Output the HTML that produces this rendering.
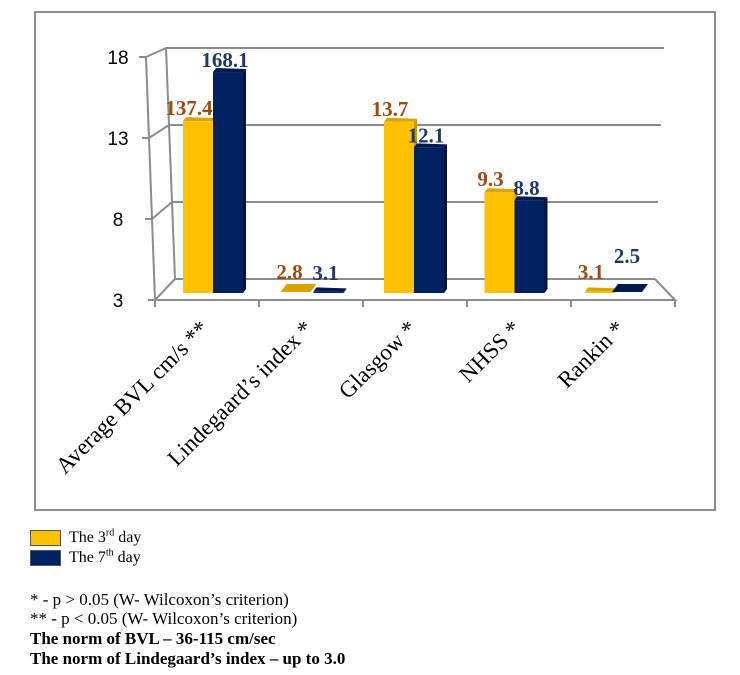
<!DOCTYPE html>
<html><head><meta charset="utf-8"><style>
body{margin:0;background:#fff;width:740px;height:675px;overflow:hidden;position:relative;font-family:"Liberation Serif",serif}
.note{position:absolute;left:30px;font-size:17px;color:#000;white-space:nowrap;line-height:18px}
.leg{position:absolute;left:30px;width:29px;height:14px;border:1px solid #555}
</style></head><body>
<div style="position:absolute;left:34px;top:11px;width:682px;height:500px;border:2px solid #8c8c8c;box-sizing:border-box"></div>
<svg id="chart" width="740" height="520" style="position:absolute;left:0;top:0" font-family="Liberation Serif, serif"></svg>
<div class="leg" style="top:530px;background:#FFC000"></div>
<div class="note" style="left:69px;top:529px;font-size:16px">The 3<sup style="font-size:10px;line-height:0">rd</sup> day</div>
<div class="leg" style="top:550px;background:#002060"></div>
<div class="note" style="left:69px;top:549px;font-size:16px">The 7<sup style="font-size:10px;line-height:0">th</sup> day</div>
<div class="note" style="top:591px">* - p &gt; 0.05 (W- Wilcoxon’s criterion)</div>
<div class="note" style="top:610px">** - p &lt; 0.05 (W- Wilcoxon’s criterion)</div>
<div class="note" style="top:630px;font-weight:bold">The norm of BVL – 36-115 cm/sec</div>
<div class="note" style="top:650px;font-weight:bold">The norm of Lindegaard’s index – up to 3.0</div>
<script>
const categories=["Average BVL cm/s **","Lindegaard’s index *","Glasgow *","NHSS *","Rankin *"];
const day3=[13.74,2.8,13.7,9.3,3.1];
const day7=[16.81,3.1,12.1,8.8,2.5];
const day3Labels=["137.4","2.8","13.7","9.3","3.1"];
const day7Labels=["168.1","3.1","12.1","8.8","2.5"];
const ticks=[3,8,13,18];

const svg=document.getElementById('chart');
const NS='http://www.w3.org/2000/svg';
function mk(t,a,p){const e=document.createElementNS(NS,t);for(const k in a)e.setAttribute(k,a[k]);(p||svg).appendChild(e);return e;}
const yFront=v=>300-(v-3)*16.2;
const yBack=v=>279-(v-3)*15.4;
const xFront=v=>155-(v-3)*0.6;
const xBack=v=>175-(v-3)*0.6;
const xBackR=v=>655+(v-3)*0.6;
const yBar=v=>293-Math.max(0,v-3)*16;
const catC=i=>156+104*(i+0.5);
const barL=i=>183+100.5*i;
const g='#8c8c8c';
ticks.forEach(v=>{
  const l=mk('line',{x1:xBack(v),y1:yBack(v),x2:xBackR(v),y2:yBack(v),stroke:g,'stroke-width':2});
  
  const d=mk('line',{x1:xFront(v),y1:yFront(v),x2:xBack(v),y2:yBack(v),stroke:g,'stroke-width':2});
  
  const tk=mk('line',{x1:xFront(v)-7,y1:yFront(v),x2:xFront(v),y2:yFront(v),stroke:g,'stroke-width':2});
  
  const t=mk('text',{x:118,y:yFront(v)+7,'text-anchor':'middle','font-size':19,'font-family':'Liberation Sans, sans-serif',fill:'#000'});
  t.textContent=v;
});
let ax=mk('line',{x1:xFront(18),y1:yFront(18),x2:xFront(3),y2:yFront(3),stroke:g,'stroke-width':2});

let bx=mk('line',{x1:xBack(18),y1:yBack(18),x2:xBack(3),y2:yBack(3),stroke:g,'stroke-width':2});

let fl=mk('polyline',{points:`155,300 675,300 655,279`,fill:'none',stroke:g,'stroke-width':2});

for(let i=0;i<=5;i++){const x=155+104*i;const t=mk('line',{x1:x,y1:300,x2:x,y2:307,stroke:g,'stroke-width':2});
 }
function bar(x,v,front,top,side,name){
  const y=yBar(v),w=30,b=293;
  const grp=mk('g',{});
  
  if(v>3){
    mk('rect',{x:x,y:y,width:w,height:b-y,fill:front},grp);
    mk('polygon',{points:`${x+w},${y} ${x+w+3},${y-3} ${x+w+3},${b-4} ${x+w},${b}`,fill:side},grp);
    mk('polygon',{points:`${x},${y} ${x+3},${y-4} ${x+w+3},${y-3} ${x+w},${y}`,fill:top},grp);
  } else {
    mk('polygon',{points:`${x-3},${b-1} ${x+3},${b-9} ${x+w+3},${b-9} ${x+w-3},${b-1}`,fill:top},grp);
  }
}
categories.forEach((c,i)=>{
  const x=barL(i);
  bar(x,day3[i],'#FFC000','#D9A300','#C89A00','bar-day3-'+i);
  bar(x+30,day7[i],'#002060','#001a50','#00143d','bar-day7-'+i);
  const t1=mk('text',{x:x+6,y:Math.min(yBar(day3[i]),285)-6,'text-anchor':'middle','font-size':21,'font-weight':'bold',fill:'#9C4A10'});
  t1.textContent=day3Labels[i];
  const t2=mk('text',{x:x+42,y:Math.min(yBar(day7[i]),285)-(day7[i]>3?5:22),'text-anchor':'middle','font-size':21,'font-weight':'bold',fill:'#1F3864'});
  t2.textContent=day7Labels[i];
  const cx=catC(i)+2,cy=330;
  const lt=mk('text',{x:cx,y:cy,'text-anchor':'end','font-size':23,fill:'#000',transform:`rotate(-45 ${cx} ${cy})`});
  lt.textContent=c;
});
</script>
</body></html>
